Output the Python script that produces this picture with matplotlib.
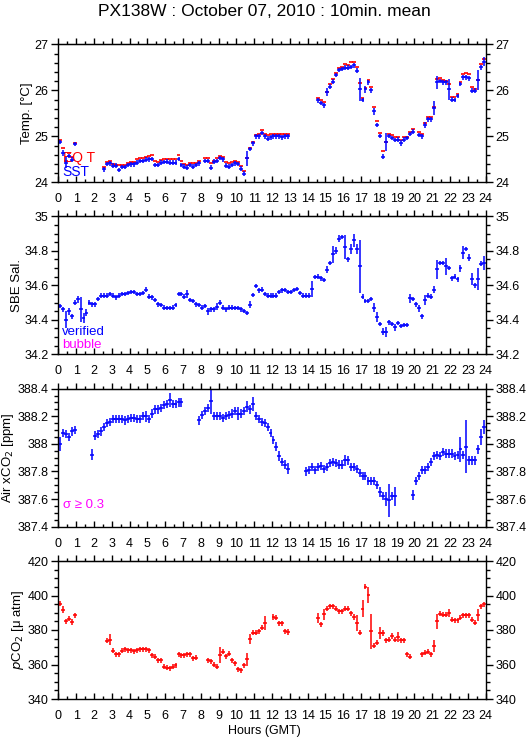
import numpy as np
import matplotlib
matplotlib.use('Agg')
import matplotlib.pyplot as plt
from matplotlib.ticker import MultipleLocator, FuncFormatter

N = np.nan

# 10-minute means, 144 slots per day (slot k covers k/6 .. (k+1)/6 hours)
sst = [24.88, 24.64, 24.43, 24.57, 24.49, 24.83, N, N, N, N, N, N,
       N, N, N, 24.28, 24.40, 24.41, 24.36, 24.36, 24.27, 24.33, 24.33, 24.38,
       24.39, 24.39, 24.43, 24.46, 24.46, 24.49, 24.50, 24.51, 24.38, 24.38, 24.43, 24.44,
       24.45, 24.43, 24.43, 24.43, 24.51, 24.38, 24.34, 24.32, 24.38, 24.34, 24.38, 24.41,
       N, 24.46, 24.46, 24.32, 24.45, 24.46, 24.53, 24.50, 24.36, 24.34, 24.38, 24.41,
       24.40, 24.30, 24.19, 24.52, 24.72, 24.85, 25.00, 25.00, 25.07, 25.00, 24.95, 24.98,
       25.00, 25.00, 25.00, 24.98, 25.00, 25.00, N, N, N, N, N, N,
       N, N, N, 25.78, 25.72, 25.67, 25.96, 26.08, 26.19, 26.33, 26.44, 26.46,
       26.49, 26.49, 26.51, 26.54, 26.43, 26.02, 25.79, 26.02, 26.17, 26.00, 25.54, 25.25,
       25.01, 24.56, 24.87, 25.01, 24.96, 24.92, 24.93, 24.85, 24.93, 24.96, 25.05, 25.10,
       N, 25.03, 25.00, 25.25, 25.37, 25.37, 25.61, 26.17, 26.20, 26.17, 26.17, 26.02,
       25.80, 25.79, 25.88, 26.14, 26.28, 26.28, 26.26, 25.99, 25.99, 26.22, 26.50, 26.62]

eqt = [24.93, 24.74, 24.47, 24.63, 24.54, 24.86, N, N, N, N, N, N,
       N, N, N, 24.34, 24.45, 24.46, 24.40, 24.38, 24.38, 24.38, 24.38, 24.43,
       24.44, 24.44, 24.51, 24.52, 24.53, 24.55, 24.57, 24.59, 24.47, 24.44, 24.49, 24.51,
       24.51, 24.51, 24.51, 24.51, 24.59, 24.47, 24.39, 24.38, 24.43, 24.41, 24.43, 24.46,
       N, 24.52, 24.52, 24.42, 24.47, 24.52, 24.58, 24.55, 24.44, 24.41, 24.44, 24.47,
       24.45, 24.36, 24.25, 24.52, 24.74, 24.88, 25.02, 25.05, 25.14, 25.04, 25.03, 25.04,
       25.04, 25.06, 25.06, 25.04, 25.04, 25.04, N, N, N, N, N, N,
       N, N, N, 25.84, 25.78, 25.74, 25.96, 26.13, 26.24, 26.37, 26.49, 26.51,
       26.57, 26.55, 26.61, 26.61, 26.50, 26.15, 25.83, 26.04, 26.22, 26.08, 25.63, 25.33,
       25.08, 24.67, 24.88, 25.06, 25.02, 24.99, 24.99, 24.93, 24.99, 24.99, 25.10, 25.15,
       N, 25.09, 25.04, 25.28, 25.41, 25.41, 25.64, 26.25, 26.26, 26.22, 26.21, 26.14,
       25.86, 25.86, 25.91, 26.17, 26.36, 26.37, 26.35, 26.07, 26.02, 26.22, 26.57, 26.67]

sal = [34.48, 34.46, 34.40, 34.45, 34.42, 34.50, 34.52, 34.46, 34.41, 34.44, 34.50, 34.49,
       34.49, 34.52, 34.54, 34.54, 34.54, 34.55, 34.54, 34.53, 34.54, 34.55, 34.55, 34.555,
       34.56, 34.56, 34.55, 34.55, 34.555, 34.575, 34.535, 34.53, 34.515, 34.49, 34.485, 34.47,
       34.467, 34.467, 34.47, 34.487, 34.55, 34.55, 34.535, 34.55, 34.515, 34.51, 34.49, 34.487,
       34.47, 34.48, 34.45, 34.46, 34.46, 34.477, 34.50, 34.47, 34.46, 34.47, 34.47, 34.467,
       34.467, 34.46, 34.45, 34.44, 34.487, 34.545, 34.597, 34.57, 34.575, 34.55, 34.54, 34.54,
       34.54, 34.54, 34.56, 34.57, 34.574, 34.56, 34.56, 34.574, 34.578, 34.555, 34.54, 34.54,
       34.54, 34.58, 34.647, 34.65, 34.64, 34.63, 34.69, 34.73, 34.78, 34.80, 34.87, 34.88,
       34.82, 34.75, 34.81, 34.86, 34.81, 34.71, 34.535, 34.51, 34.51, 34.52, 34.47, 34.415,
       34.375, 34.33, 34.33, 34.385, 34.375, 34.357, 34.38, 34.365, 34.37, 34.37, 34.525, 34.52,
       34.49, 34.467, 34.42, 34.515, 34.54, 34.535, 34.574, 34.694, 34.73, 34.73, 34.71, 34.70,
       34.64, 34.65, 34.635, 34.70, 34.79, 34.81, 34.76, 34.635, 34.60, 34.635, 34.725, 34.73]

xco2 = [388.00, 388.08, 388.07, 388.05, 388.09, 388.10, N, N, N, N, N, 387.92,
        388.06, 388.07, 388.09, 388.12, 388.15, 388.16, 388.18, 388.18, 388.18, 388.18, 388.17, 388.18,
        388.19, 388.19, 388.18, 388.18, 388.20, 388.20, 388.18, 388.22, 388.25, 388.25, 388.26, 388.28,
        388.29, 388.32, 388.29, 388.29, 388.30, 388.30, N, N, N, N, N, 388.17,
        388.21, 388.24, 388.26, 388.31, 388.20, 388.20, 388.20, 388.19, 388.20, 388.21, 388.22, 388.24,
        388.22, 388.22, 388.24, 388.27, 388.25, 388.29, 388.20, 388.18, 388.16, 388.15, 388.12, 388.08,
        388.03, 387.98, 387.91, 387.87, 387.85, 387.82, N, N, N, N, N, 387.80,
        387.81, 387.83, 387.81, 387.83, 387.84, 387.82, 387.83, 387.86, 387.87, 387.86, 387.85, 387.85,
        387.88, 387.88, 387.83, 387.83, 387.82, 387.79, 387.77, 387.77, 387.73, 387.73, 387.73, 387.70,
        387.65, 387.62, 387.60, 387.59, 387.62, 387.62, N, N, N, N, N, 387.63,
        387.73, 387.77, 387.81, 387.81, 387.83, 387.87, 387.91, 387.92, 387.91, 387.94, 387.93, 387.93,
        387.93, 387.91, 387.92, 387.96, 387.92, 387.98, 387.88, 387.88, 387.88, 387.96, 388.05, 388.12]

pco2 = [395.2, 391.7, 385.0, 386.5, 384.6, 388.5, N, N, N, N, N, N,
        N, N, N, N, 373.7, 374.4, 367.9, 365.8, 365.8, 367.9, 368.7, 368.3,
        368.3, 367.7, 368.3, 368.7, 368.7, 368.7, 368.3, 365.4, 364.4, 362.5, 362.5, 358.7,
        358.1, 357.7, 358.7, 359.6, 365.8, 365.4, 365.4, 365.8, 365.8, 363.5, 364.0, N,
        N, N, 362.5, 361.9, 360.0, 358.7, 365.4, 367.3, 364.8, 366.3, 362.5, 360.6,
        357.3, 356.7, 359.6, 362.9, 374.6, 378.5, 378.5, 379.2, 381.3, 384.0, N, N,
        387.5, 387.1, 384.0, 384.0, 379.2, 378.8, N, N, N, N, N, N,
        N, N, N, 386.9, 383.3, 389.0, 392.3, 393.8, 393.8, 392.3, 390.8, 390.8,
        392.3, 392.3, 389.8, 387.5, 384.0, 378.5, 392.3, 405.2, 400.4, 379.2, 370.8, 372.7,
        378.3, 378.3, 374.0, 374.4, 376.5, 374.4, 376.0, 374.0, 374.0, 365.8, 364.4, N,
        N, N, 365.8, 366.9, 367.3, 366.0, 370.6, 385.0, 389.4, 388.8, 388.8, 389.8,
        386.0, 385.6, 385.6, 387.1, 388.5, 388.5, 388.5, 386.0, 384.2, 388.5, 393.7, 394.8]

# std dev (half length of the vertical bars); typical value + the long ones
sst_sd, sst_sd_big = 0.05, {1: 0.07, 2: 0.12, 51: 0.06, 62: 0.06, 63: 0.16, 90: 0.08,
                            101: 0.25, 103: 0.07, 105: 0.06, 106: 0.07, 109: 0.06, 110: 0.2,
                            115: 0.06, 123: 0.06, 126: 0.15, 127: 0.14, 131: 0.23, 141: 0.22,
                            143: 0.1}
sal_sd, sal_sd_big = 0.013, {2: 0.05, 3: 0.02, 6: 0.02, 7: 0.07, 8: 0.03, 9: 0.02, 43: 0.025,
                             50: 0.02, 53: 0.02, 64: 0.02, 85: 0.045, 90: 0.02, 92: 0.05,
                             93: 0.02, 94: 0.02, 96: 0.07, 98: 0.03, 99: 0.04, 100: 0.03,
                             101: 0.155, 106: 0.025, 107: 0.03, 109: 0.02, 110: 0.03,
                             113: 0.02, 118: 0.025, 121: 0.02, 123: 0.03, 126: 0.02,
                             127: 0.055, 130: 0.05, 135: 0.02, 136: 0.04, 138: 0.02,
                             139: 0.035, 141: 0.065, 143: 0.04}
xco2_sd, xco2_sd_big = 0.03, {0: 0.05, 11: 0.04, 29: 0.04, 37: 0.05, 51: 0.09, 60: 0.05,
                              63: 0.04, 65: 0.05, 73: 0.035, 74: 0.035, 77: 0.04, 96: 0.04,
                              108: 0.035, 110: 0.05, 111: 0.12, 113: 0.07, 119: 0.035,
                              135: 0.09, 137: 0.19, 142: 0.06, 143: 0.05}
pco2_sd, pco2_sd_big = 1.5, {1: 2.0, 17: 3.0, 54: 4.5, 63: 4.0, 64: 3.0, 69: 4.0, 87: 3.0,
                             89: 3.0, 100: 4.5, 102: 5.0, 103: 1.5, 104: 4.5, 105: 10.0,
                             108: 3.5, 114: 3.0, 126: 3.5, 127: 4.5, 131: 2.5, 141: 3.5}

title = 'PX138W : October 07, 2010 : 10min. mean'

hours = (np.arange(144) + 0.5) / 6.0
half = 0.11  # half width of the horizontal arm, hours

def sd_array(typ, big):
    e = np.full(144, typ)
    for k, v in big.items():
        e[k] = v
    return e

plt.rcParams['font.family'] = ['Liberation Sans', 'DejaVu Sans']
fig = plt.figure(figsize=(5.29, 7.39), dpi=100)

left, width, height = 58.3 / 529, 427.4 / 529, 138.0 / 739
bottoms = [1 - 182.3 / 739, 1 - 354.3 / 739, 1 - 526.7 / 739, 1 - 699.0 / 739]


def setup(ax, lo, hi, major, minor, label):
    ax.set_xlim(0, 24)
    ax.set_ylim(lo, hi)
    ax.xaxis.set_major_locator(MultipleLocator(1))
    ax.xaxis.set_minor_locator(MultipleLocator(0.5))
    ax.yaxis.set_major_locator(MultipleLocator(major))
    ax.yaxis.set_minor_locator(MultipleLocator(minor))
    ax.yaxis.set_major_formatter(FuncFormatter(lambda v, p: '%g' % round(v, 3)))
    ax.tick_params(axis='x', which='both', direction='in', bottom=True, top=False,
                   labelsize=9, pad=8)
    ax.tick_params(axis='x', which='major', length=4.5, width=1)
    ax.tick_params(axis='x', which='minor', length=2.5, width=1)
    ax.tick_params(axis='y', which='both', direction='out', left=True, right=True,
                   labelleft=True, labelright=True, labelsize=9, pad=2)
    ax.tick_params(axis='y', which='major', length=5, width=1)
    ax.tick_params(axis='y', which='minor', length=3, width=1)
    for s in ax.spines.values():
        s.set_linewidth(1)
    top = ax.secondary_xaxis('top')
    top.xaxis.set_major_locator(MultipleLocator(1))
    top.xaxis.set_minor_locator(MultipleLocator(0.5))
    top.tick_params(axis='x', which='both', direction='out', labeltop=False, width=1)
    top.tick_params(axis='x', which='major', length=4.5)
    top.tick_params(axis='x', which='minor', length=2.5)
    ax.set_ylabel(label, fontsize=9.5, labelpad=1)


def crosses(ax, y, sd, color):
    ax.errorbar(hours, y, xerr=half, yerr=sd, fmt='none', ecolor=color,
                elinewidth=1.1, capsize=0)


# Temperature
ax1 = fig.add_axes([left, bottoms[0], width, height])
ax1.errorbar(hours, eqt, xerr=half, fmt='none', ecolor='#ff0000', elinewidth=1.2)
crosses(ax1, sst, sd_array(sst_sd, sst_sd_big), '#0000ff')
setup(ax1, 24, 27, 1, 0.2, 'Temp. [\u00b0C]')
ax1.text(0.01, 0.175, 'EQ T', color='#ff0000', fontsize=10, transform=ax1.transAxes,
         va='center', zorder=0)
ax1.text(0.01, 0.075, 'SST', color='#0000ff', fontsize=10, transform=ax1.transAxes,
         va='center')

# Salinity
ax2 = fig.add_axes([left, bottoms[1], width, height])
crosses(ax2, sal, sd_array(sal_sd, sal_sd_big), '#0000ff')
setup(ax2, 34.2, 35, 0.2, 0.05, 'SBE Sal.')
ax2.text(0.008, 0.16, 'verified', color='#0000ff', fontsize=9.5, transform=ax2.transAxes,
         va='center')
ax2.text(0.008, 0.065, 'bubble', color='#ff00ff', fontsize=9.5, transform=ax2.transAxes,
         va='center')

# Air xCO2
ax3 = fig.add_axes([left, bottoms[2], width, height])
crosses(ax3, xco2, sd_array(xco2_sd, xco2_sd_big), '#0000ff')
setup(ax3, 387.4, 388.4, 0.2, 0.05, 'Air xCO$_2$ [ppm]')
ax3.text(0.01, 0.16, '\u03c3 \u2265 0.3', color='#ff00ff', fontsize=9.5,
         transform=ax3.transAxes, va='center')

# pCO2
ax4 = fig.add_axes([left, bottoms[3], width, height])
crosses(ax4, pco2, sd_array(pco2_sd, pco2_sd_big), '#ff0000')
setup(ax4, 340, 420, 20, 5, '$\\it{p}$CO$_2$ [\u03bc atm]')

fig.text(0.5, 0.984, title, ha='center', va='center', fontsize=12.5)
fig.text(0.5, 1 - 731 / 739, 'Hours (GMT)', ha='center', va='center', fontsize=9)

fig.savefig('out.png', dpi=100)
